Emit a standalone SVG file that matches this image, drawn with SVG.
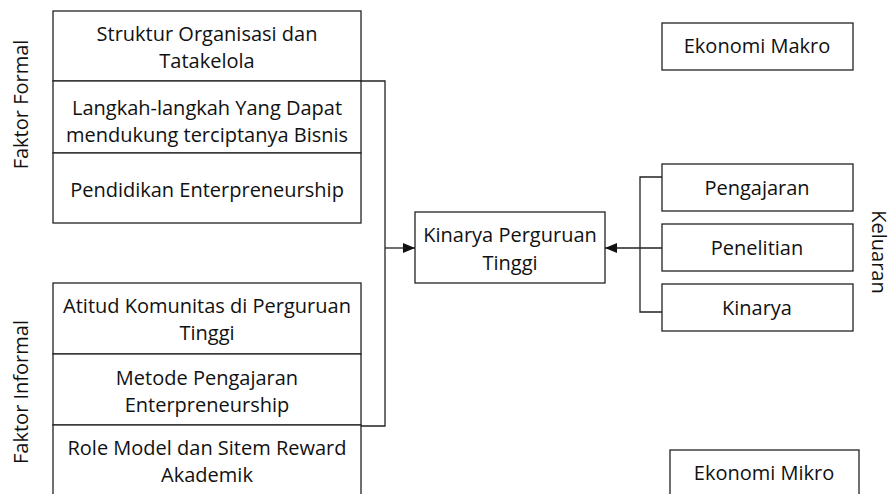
<svg xmlns="http://www.w3.org/2000/svg" width="894" height="494" viewBox="0 0 894 494">
<style>
.b{fill:#fff;stroke:#222;stroke-width:1.3}
.t{font-family:"Open Sans","Liberation Sans",sans-serif;font-size:20px;fill:#111;text-anchor:middle}
.c{fill:none;stroke:#222;stroke-width:1.3}
</style>
<defs>
<marker id="ah" markerWidth="12" markerHeight="10" refX="12" refY="5" orient="auto" markerUnits="userSpaceOnUse">
<path d="M0,0 L12,5 L0,10 Z" fill="#111"/>
</marker>
</defs>
<rect width="894" height="494" fill="#fff"/>
<g id="conn">
<path class="c" d="M361,81 H385 V426 H361"/>
<path class="c" d="M385,248 H415" marker-end="url(#ah)"/>
<path class="c" d="M662,177 H640 V312 H662 M662,248 H640"/>
<path class="c" d="M640,248 H605" marker-end="url(#ah)"/>
</g>
<g id="n1"><rect class="b" x="53" y="11" width="308" height="70"/><text class="t" x="207" y="41">Struktur Organisasi dan</text><text class="t" x="207" y="68">Tatakelola</text></g>
<g id="n2"><rect class="b" x="53" y="81" width="308" height="72"/><text class="t" x="207" y="115">Langkah-langkah Yang Dapat</text><text class="t" x="207" y="142">mendukung terciptanya Bisnis</text></g>
<g id="n3"><rect class="b" x="53" y="153" width="308" height="70"/><text class="t" x="207" y="197">Pendidikan Enterpreneurship</text></g>
<g id="n4"><rect class="b" x="53" y="283" width="308" height="71"/><text class="t" x="207" y="313">Atitud Komunitas di Perguruan</text><text class="t" x="207" y="340">Tinggi</text></g>
<g id="n5"><rect class="b" x="53" y="354" width="308" height="71"/><text class="t" x="207" y="385">Metode Pengajaran</text><text class="t" x="207" y="412">Enterpreneurship</text></g>
<g id="n6"><rect class="b" x="53" y="425" width="308" height="75"/><text class="t" x="207" y="455">Role Model dan Sitem Reward</text><text class="t" x="207" y="482">Akademik</text></g>
<g id="n7"><rect class="b" x="415" y="212" width="190" height="71"/><text class="t" x="510" y="242">Kinarya Perguruan</text><text class="t" x="510" y="270">Tinggi</text></g>
<g id="n8"><rect class="b" x="662" y="164" width="191" height="47"/><text class="t" x="757" y="195">Pengajaran</text></g>
<g id="n9"><rect class="b" x="662" y="224" width="191" height="47"/><text class="t" x="757" y="255">Penelitian</text></g>
<g id="n10"><rect class="b" x="662" y="284" width="191" height="47"/><text class="t" x="757" y="315">Kinarya</text></g>
<g id="n11"><rect class="b" x="662" y="23" width="191" height="47"/><text class="t" x="757" y="53">Ekonomi Makro</text></g>
<g id="n12"><rect class="b" x="670" y="450" width="189" height="50"/><text class="t" x="764" y="480">Ekonomi Mikro</text></g>
<g id="labels">
<text class="t" transform="translate(28,104.5) rotate(-90)">Faktor Formal</text>
<text class="t" transform="translate(28,392) rotate(-90)">Faktor Informal</text>
<text class="t" transform="translate(872,252) rotate(90)">Keluaran</text>
</g>
</svg>
